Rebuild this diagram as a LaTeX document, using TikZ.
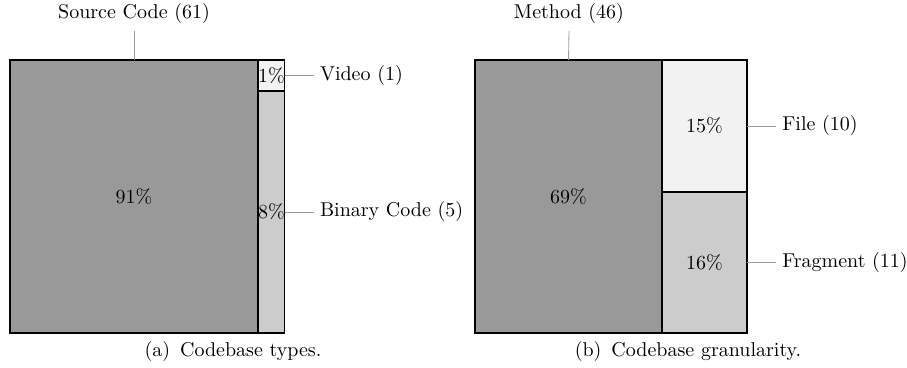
\documentclass[tikz,border=0pt]{standalone}
\usetikzlibrary{positioning}
\definecolor{darkcell}{HTML}{999999}
\definecolor{midcell}{HTML}{CCCCCC}
\definecolor{lightcell}{HTML}{F2F2F2}
\definecolor{leader}{HTML}{9A9A9A}

\begin{document}
\begin{tikzpicture}[x=0.5pt, y=-0.5pt,
  cell/.style={draw, line width=0.6pt, anchor=north west, inner sep=0pt, outer sep=0pt},
  lbl/.style={inner sep=3pt},
  lead/.style={draw=leader, line width=0.4pt}]
\useasboundingbox (0,0) rectangle (907,368);
% (a) codebase types
\node[cell, fill=darkcell, minimum width=124pt, minimum height=136.5pt] (src) at (10,60) {91\%};
\node[cell, fill=lightcell, minimum width=12.5pt, minimum height=15.5pt] (vid) at (258,60) {1\%};
\node[cell, fill=midcell, minimum width=12.5pt, minimum height=121pt] (bin) at (258,91) {8\%};
\node (srclbl) at (134,14) {Source Code (61)};
\coordinate (srctop) at (134,31);
\node[lbl, right=14.5pt of vid] (vidlbl) {Video (1)};
\node[lbl, right=14.5pt of bin] (binlbl) {Binary Code (5)};
\draw[lead] (srctop) -- (src.north);
\draw[lead] (vid.east) -- (vidlbl.west);
\draw[lead] (bin.east) -- (binlbl.west);
\node (capa) at (233,352) {(a)\enspace Codebase types.};
% (b) codebase granularity
\node[cell, fill=darkcell, minimum width=93.5pt, minimum height=136.5pt] (meth) at (475,60) {69\%};
\node[cell, fill=lightcell, minimum width=42.5pt, minimum height=66pt] (file) at (662,60) {15\%};
\node[cell, fill=midcell, minimum width=42.5pt, minimum height=70.5pt] (frag) at (662,192) {16\%};
\node (methlbl) at (569,14) {Method (46)};
\coordinate (methtop) at (569,31);
\node[lbl, right=14.5pt of file] (filelbl) {File (10)};
\node[lbl, right=14.5pt of frag] (fraglbl) {Fragment (11)};
\draw[lead] (methtop) -- (meth.north);
\draw[lead] (file.east) -- (filelbl.west);
\draw[lead] (frag.east) -- (fraglbl.west);
\node (capb) at (688,352) {(b)\enspace Codebase granularity.};
\end{tikzpicture}
\end{document}
